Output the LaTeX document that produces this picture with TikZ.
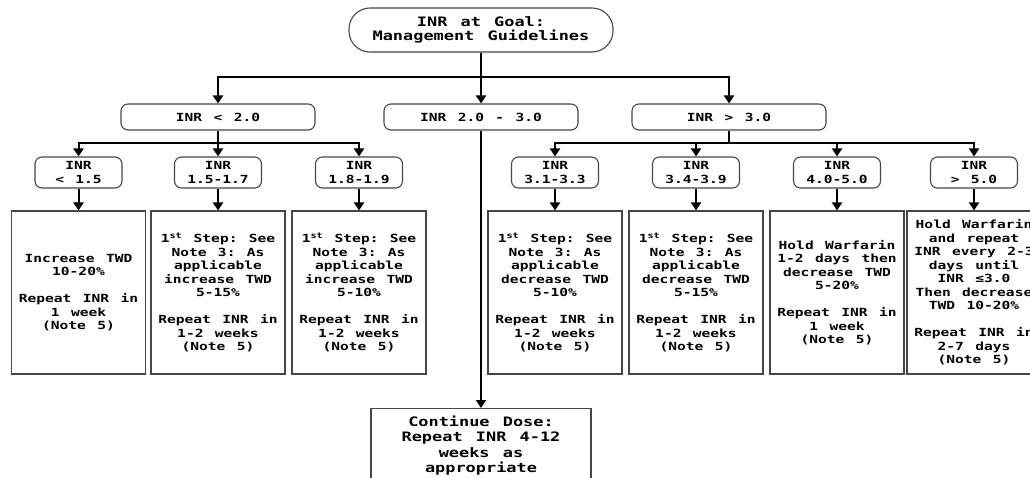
\documentclass[tikz,border=0pt]{standalone}
\usepackage{fontspec}
\setmonofont[FakeStretch=1.3, WordSpace={1.3,0,0}]{DejaVu Sans Mono}
\usetikzlibrary{arrows.meta,positioning}

\tikzstyle{basebox} = [draw=black!72, line width=1.1pt, fill=white, align=center,
    inner sep=2pt, font=\ttfamily\bfseries\fontsize{11.2}{13.5}\selectfont]
\tikzstyle{goalbox} = [basebox, rounded corners=21pt, minimum width=264pt,
    minimum height=44pt, font=\ttfamily\bfseries\fontsize{13}{14.3}\selectfont]
\tikzstyle{rangebox} = [basebox, rounded corners=7pt, minimum width=194pt, minimum height=26pt]
\tikzstyle{subbox} = [basebox, rounded corners=7pt, minimum width=87pt, minimum height=31pt]
\tikzstyle{block} = [basebox, minimum width=134pt, minimum height=163pt]
\tikzstyle{finalbox} = [basebox, anchor=north, minimum width=220pt, minimum height=74pt,
    font=\ttfamily\bfseries\fontsize{13}{15.3}\selectfont]
\tikzstyle{link} = [line width=2pt, -{Triangle[length=8pt,width=10pt]}]

\begin{document}
\begin{tikzpicture}[x=1pt, y=-1pt]
  \clip (0,0) rectangle (1030,477);
  \useasboundingbox (0,0) rectangle (1030,477);

  % top level and the three INR ranges
  \node [goalbox] (goal) at (481,30) {INR at Goal:\\Management Guidelines};
  \node [rangebox] (low) at (218,117) {INR < 2.0};
  \node [rangebox] (mid) at (481,117) {INR 2.0 - 3.0};
  \node [rangebox] (high) at (729,117) {INR > 3.0};

  % sub ranges
  \node [subbox] (s1) at (78.5,172.5) {INR\\< 1.5};
  \node [subbox] (s2) at (218,172.5) {INR\\1.5-1.7};
  \node [subbox] (s3) at (359,172.5) {INR\\1.8-1.9};
  \node [subbox] (s4) at (555,172.5) {INR\\3.1-3.3};
  \node [subbox] (s5) at (696,172.5) {INR\\3.4-3.9};
  \node [subbox] (s6) at (837,172.5) {INR\\4.0-5.0};
  \node [subbox] (s7) at (974,172.5) {INR\\> 5.0};

  % actions
  \node [block] (b1) at (78.5,292.5) {Increase TWD\\10-20\%\\[13.5pt]Repeat INR in\\1 week\\(Note 5)};
  \node [block] (b2) at (218,292.5) {1\textsuperscript{st} Step: See\\Note 3: As\\applicable\\increase TWD\\5-15\%\\[13.5pt]Repeat INR in\\1-2 weeks\\(Note 5)};
  \node [block] (b3) at (359,292.5) {1\textsuperscript{st} Step: See\\Note 3: As\\applicable\\increase TWD\\5-10\%\\[13.5pt]Repeat INR in\\1-2 weeks\\(Note 5)};
  \node [block] (b4) at (555,292.5) {1\textsuperscript{st} Step: See\\Note 3: As\\applicable\\decrease TWD\\5-10\%\\[13.5pt]Repeat INR in\\1-2 weeks\\(Note 5)};
  \node [block] (b5) at (696,292.5) {1\textsuperscript{st} Step: See\\Note 3: As\\applicable\\decrease TWD\\5-15\%\\[13.5pt]Repeat INR in\\1-2 weeks\\(Note 5)};
  \node [block] (b6) at (837,292.5) {Hold Warfarin\\1-2 days then\\decrease TWD\\5-20\%\\[13.5pt]Repeat INR in\\1 week\\(Note 5)};
  \node [block] (b7) at (974,292.5) {Hold Warfarin\\and repeat\\INR every 2-3\\days until\\INR ≤3.0\\Then decrease\\TWD 10-20\%\\[13.5pt]Repeat INR in\\2-7 days\\(Note 5)};

  \node [finalbox] (cont) at (481,408) {Continue Dose:\\Repeat INR 4-12\\weeks as\\appropriate};

  % connectors
  \coordinate (split) at (481,77);
  \coordinate (lowsplit) at (218,143);
  \coordinate (highsplit) at (729,143);

  \draw [link] (goal) -- (mid);
  \draw [link] (split) -| (low);
  \draw [link] (split) -| (high);

  \draw [link] (low) -- (s2);
  \draw [link] (lowsplit) -| (s1);
  \draw [link] (lowsplit) -| (s3);

  \draw [line width=2pt] (high) -- (highsplit);
  \foreach \n in {s4,s5,s6,s7}
    \draw [link] (highsplit) -| (\n);

  \foreach \i in {1,...,7}
    \draw [link] (s\i) -- (b\i);

  \draw [link] (mid) -- (cont);
\end{tikzpicture}
\end{document}
